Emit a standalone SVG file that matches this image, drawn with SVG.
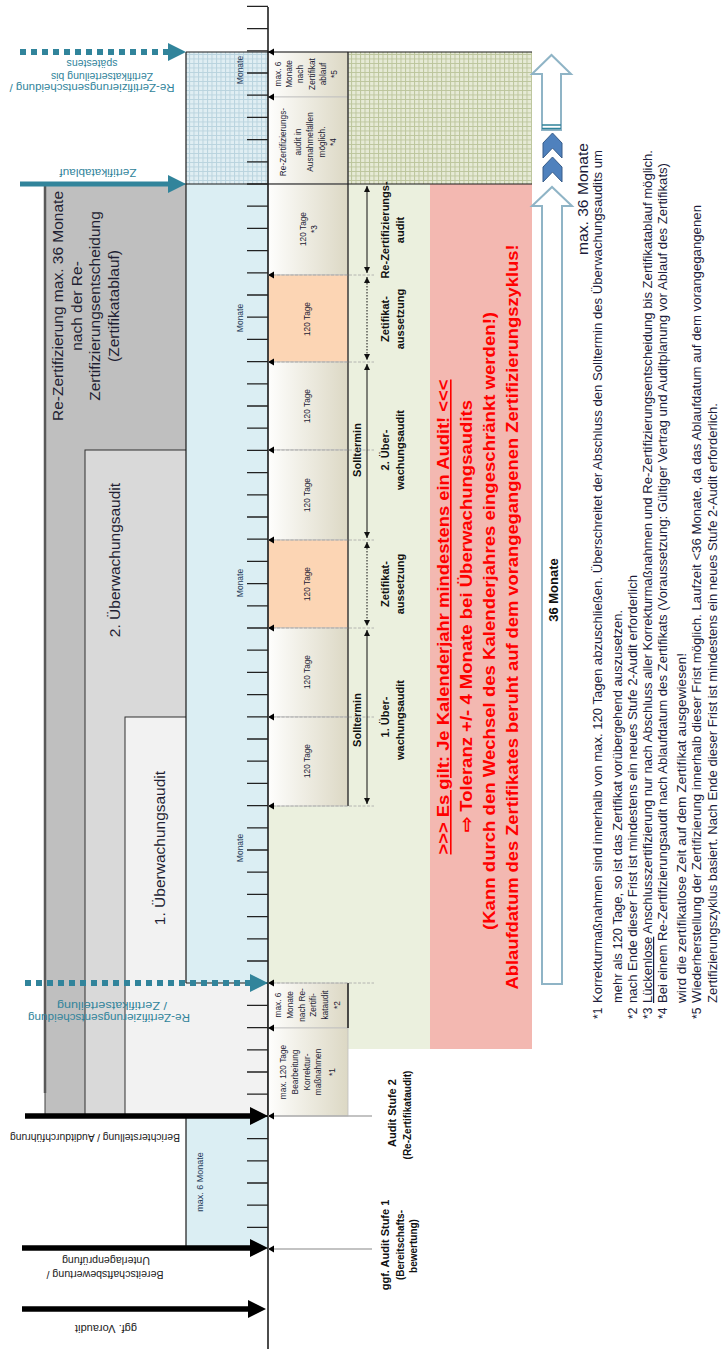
<svg xmlns="http://www.w3.org/2000/svg" width="721" height="1349" viewBox="0 0 721 1349">
<defs>
<style>
text{font-family:"Liberation Sans",Arial,sans-serif}
.box{font-size:15.5px;fill:#1f1f33}
.mon{font-size:8.5px;fill:#1f3b5a}
.blk{font-size:8.3px;fill:#1a1a33}
.grn{font-size:11px;font-weight:bold;fill:#111}
.red{font-size:16px;font-weight:bold;fill:#ff0000}
.foot{font-size:12px;fill:#1c1c3a}
.tl{font-size:10.5px;fill:#31849b}
.bl{font-size:10.5px;fill:#222}
.lbl{font-weight:bold;fill:#111}
.tick{stroke:#222;stroke-width:1.3;fill:none}
.gl{stroke:#a6a6a6;stroke-width:0.8;stroke-dasharray:3 1.5;fill:none}
.edge{stroke:#1a1a1a;stroke-width:1.2;fill:none}
.dbl{stroke:#111;stroke-width:1;fill:none;marker-start:url(#ah);marker-end:url(#ah)}
.dotd{stroke-dasharray:1.5 1.5}
.bigarr{fill:#fff;stroke:#8fb4c6;stroke-width:2}
.chev{fill:#4f81bd;stroke:#385d8a;stroke-width:1}
</style>
<linearGradient id="bg" x1="0" x2="1" y1="0" y2="0"><stop offset="0" stop-color="#fefefd"/><stop offset="1" stop-color="#dcd8c4"/></linearGradient>
<pattern id="pb" width="4.5" height="4.5" patternUnits="userSpaceOnUse"><rect width="4.5" height="4.5" fill="#e0eef3"/><path d="M0 0.5H4.5M0.5 0V4.5" stroke="#b9d3de" stroke-width="1"/></pattern>
<pattern id="pg" width="4.5" height="4.5" patternUnits="userSpaceOnUse"><rect width="4.5" height="4.5" fill="#e6eAd6"/><path d="M0 0.5H4.5M0.5 0V4.5" stroke="#bcc59c" stroke-width="1"/></pattern>
<marker id="ah" viewBox="0 0 8 8" refX="8" refY="4" markerWidth="6" markerHeight="7" markerUnits="userSpaceOnUse" orient="auto-start-reverse"><path d="M0 0L8 4L0 8z" fill="#111"/></marker>
<marker id="ht" viewBox="0 0 18 18" refX="2" refY="9" markerWidth="18" markerHeight="18" markerUnits="userSpaceOnUse" orient="auto"><path d="M0 0L18 9L0 18z" fill="#31849b"/></marker>
<marker id="hb" viewBox="0 0 18 18" refX="2" refY="9" markerWidth="18" markerHeight="18" markerUnits="userSpaceOnUse" orient="auto"><path d="M0 0L18 9L0 18z" fill="#000"/></marker>
<path id="tri" d="M0 0L6 -3.5L6 3.5z" fill="#000"/>
</defs>

<g id="box-rezert">
<rect x="45" y="184" width="223" height="932" fill="#bfbfbf" stroke="#404040" stroke-width="1"/>
<line x1="45" y1="184" x2="45" y2="1093" stroke="#595959" stroke-width="2.5"/>
<text class="box" transform="translate(63.4,306) rotate(-90)" text-anchor="middle">Re-Zertifizierung max. 36 Monate</text>
<text class="box" transform="translate(82,306) rotate(-90)" text-anchor="middle">nach der Re-</text>
<text class="box" transform="translate(100.4,306) rotate(-90)" text-anchor="middle">Zertifizierungsentscheidung</text>
<text class="box" transform="translate(118.9,306) rotate(-90)" text-anchor="middle">(Zertifikatablauf)</text>
</g>
<g id="box-ueb2">
<rect x="85" y="450" width="183" height="666" fill="#d9d9d9" stroke="#303030" stroke-width="1"/>
<text class="box" transform="translate(120.4,560) rotate(-90)" text-anchor="middle">2. Überwachungsaudit</text>
</g>
<g id="box-ueb1">
<rect x="125" y="717" width="143" height="399" fill="#f2f2f2" stroke="#303030" stroke-width="1"/>
<text class="box" transform="translate(165.4,848) rotate(-90)" text-anchor="middle">1. Überwachungsaudit</text>
</g>

<g id="months-column">
<rect x="186" y="52" width="82" height="132" fill="url(#pb)"/>
<rect x="186" y="184" width="82" height="799" fill="#dbeef3"/>
<line class="edge" x1="186" y1="52" x2="186" y2="983"/>
<line class="edge" x1="186" y1="983" x2="268" y2="983"/>
<line class="edge" x1="186" y1="184" x2="268" y2="184"/>
<text class="mon" transform="translate(243,70) rotate(-90)" text-anchor="middle">Monate</text>
<text class="mon" transform="translate(243,318) rotate(-90)" text-anchor="middle">Monate</text>
<text class="mon" transform="translate(243,583) rotate(-90)" text-anchor="middle">Monate</text>
<text class="mon" transform="translate(243,848) rotate(-90)" text-anchor="middle">Monate</text>
</g>
<g id="box-max6">
<rect x="186" y="1116" width="82" height="133" fill="#dbeef3"/>
<line class="edge" x1="186" y1="1116" x2="186" y2="1249"/>
<text transform="translate(203,1182) rotate(-90)" text-anchor="middle" style="font-size:9px;fill:#1f3b5a">max. 6 Monate</text>
</g>

<g id="green-column">
<rect x="348" y="52" width="184" height="132" fill="url(#pg)"/>
<rect x="348" y="184" width="82" height="865" fill="#ebf0de"/>
<rect x="268" y="806" width="80" height="177" fill="#ebf0de"/>
</g>
<g id="pink-column">
<rect x="430" y="184" width="102" height="865" fill="#f3b8b1"/>
<text class="red" transform="translate(449,617) rotate(-90)" text-anchor="middle" text-decoration="underline" textLength="475" lengthAdjust="spacingAndGlyphs">&gt;&gt;&gt; Es gilt: Je Kalenderjahr mindestens ein Audit! &lt;&lt;&lt;</text>
<text class="red" transform="translate(472,616) rotate(-90)" text-anchor="middle" textLength="432" lengthAdjust="spacingAndGlyphs">⇨ Toleranz +/- 4 Monate bei Überwachungsaudits</text>
<text class="red" transform="translate(495,621) rotate(-90)" text-anchor="middle" textLength="618" lengthAdjust="spacingAndGlyphs">(Kann durch den Wechsel des Kalenderjahres eingeschränkt werden!)</text>
<text class="red" transform="translate(518,617) rotate(-90)" text-anchor="middle" textLength="745" lengthAdjust="spacingAndGlyphs">Ablaufdatum des Zertifikates beruht auf dem vorangegangenen Zertifizierungszyklus!</text>
</g>

<g id="blk-max6-ablauf">
<rect x="268" y="52" width="80" height="45" fill="url(#bg)" stroke="#bfbfbf" stroke-width="0.8"/>
<text class="blk" transform="translate(280.9,74) rotate(-90)" text-anchor="middle">max. 6</text>
<text class="blk" transform="translate(291.9,74) rotate(-90)" text-anchor="middle">Monate</text>
<text class="blk" transform="translate(302.9,74) rotate(-90)" text-anchor="middle">nach</text>
<text class="blk" transform="translate(314.9,74) rotate(-90)" text-anchor="middle">Zertifikat</text>
<text class="blk" transform="translate(325.9,74) rotate(-90)" text-anchor="middle">ablauf</text>
<text class="blk" transform="translate(336.9,74) rotate(-90)" text-anchor="middle">*5</text>
</g>
<g id="blk-ausnahme">
<rect x="268" y="97" width="80" height="87" fill="url(#bg)" stroke="#bfbfbf" stroke-width="0.8"/>
<text class="blk" transform="translate(285.9,142) rotate(-90)" text-anchor="middle">Re-Zertifizierungs-</text>
<text class="blk" transform="translate(300.9,142) rotate(-90)" text-anchor="middle">audit in</text>
<text class="blk" transform="translate(312.9,142) rotate(-90)" text-anchor="middle">Ausnahmefällen</text>
<text class="blk" transform="translate(324.9,142) rotate(-90)" text-anchor="middle">möglich.</text>
<text class="blk" transform="translate(335.9,142) rotate(-90)" text-anchor="middle">*4</text>
</g>
<g id="blk-120-3">
<rect x="268" y="184" width="80" height="91" fill="url(#bg)" stroke="#bfbfbf" stroke-width="0.8"/>
<text class="blk" transform="translate(305.9,229) rotate(-90)" text-anchor="middle">120 Tage</text>
<text class="blk" transform="translate(316.9,229) rotate(-90)" text-anchor="middle">*3</text>
</g>
<g id="blk-120-a">
<rect x="268" y="275" width="80" height="87" fill="#fcd5b4" stroke="#bfbfbf" stroke-width="0.8"/>
<text class="blk" transform="translate(309.9,319) rotate(-90)" text-anchor="middle">120 Tage</text>
</g>
<g id="blk-120-b">
<rect x="268" y="362" width="80" height="88" fill="url(#bg)" stroke="#bfbfbf" stroke-width="0.8"/>
<text class="blk" transform="translate(309.9,406) rotate(-90)" text-anchor="middle">120 Tage</text>
</g>
<g id="blk-120-c">
<rect x="268" y="450" width="80" height="90" fill="url(#bg)" stroke="#bfbfbf" stroke-width="0.8"/>
<text class="blk" transform="translate(309.9,495) rotate(-90)" text-anchor="middle">120 Tage</text>
</g>
<g id="blk-120-d">
<rect x="268" y="540" width="80" height="88" fill="#fcd5b4" stroke="#bfbfbf" stroke-width="0.8"/>
<text class="blk" transform="translate(309.9,584) rotate(-90)" text-anchor="middle">120 Tage</text>
</g>
<g id="blk-120-e">
<rect x="268" y="628" width="80" height="89" fill="url(#bg)" stroke="#bfbfbf" stroke-width="0.8"/>
<text class="blk" transform="translate(309.9,672) rotate(-90)" text-anchor="middle">120 Tage</text>
</g>
<g id="blk-120-f">
<rect x="268" y="717" width="80" height="89" fill="url(#bg)" stroke="#bfbfbf" stroke-width="0.8"/>
<text class="blk" transform="translate(309.9,761) rotate(-90)" text-anchor="middle">120 Tage</text>
</g>
<g id="blk-max6-rezert">
<rect x="268" y="983" width="80" height="45" fill="url(#bg)" stroke="#bfbfbf" stroke-width="0.8"/>
<text class="blk" transform="translate(280.9,1005) rotate(-90)" text-anchor="middle">max. 6</text>
<text class="blk" transform="translate(292.9,1005) rotate(-90)" text-anchor="middle">Monate</text>
<text class="blk" transform="translate(304.9,1005) rotate(-90)" text-anchor="middle">nach Re-</text>
<text class="blk" transform="translate(315.9,1005) rotate(-90)" text-anchor="middle">Zertifi-</text>
<text class="blk" transform="translate(327.9,1005) rotate(-90)" text-anchor="middle">kataudit</text>
<text class="blk" transform="translate(339.9,1005) rotate(-90)" text-anchor="middle">*2</text>
</g>
<g id="blk-max120">
<rect x="268" y="1028" width="80" height="88" fill="url(#bg)" stroke="#bfbfbf" stroke-width="0.8"/>
<text class="blk" transform="translate(285.9,1072) rotate(-90)" text-anchor="middle">max. 120 Tage</text>
<text class="blk" transform="translate(297.9,1072) rotate(-90)" text-anchor="middle">Bearbeitung</text>
<text class="blk" transform="translate(309.9,1072) rotate(-90)" text-anchor="middle">Korrektur-</text>
<text class="blk" transform="translate(320.9,1072) rotate(-90)" text-anchor="middle">maßnahmen</text>
<text class="blk" transform="translate(334.9,1072) rotate(-90)" text-anchor="middle">*1</text>
</g>

<g id="frame-lines">
<line class="edge" x1="186" y1="52" x2="532" y2="52"/>
<line class="edge" x1="268" y1="184" x2="532" y2="184"/>
<line class="edge" x1="348" y1="52" x2="348" y2="806"/>
<line x1="348" y1="983" x2="348" y2="1028" stroke="#1a1a1a" stroke-width="1.5"/>
</g>

<g id="green-labels">
<text class="grn" transform="translate(361,450) rotate(-90)" text-anchor="middle">Solltermin</text>
<text class="grn" transform="translate(361,720) rotate(-90)" text-anchor="middle">Solltermin</text>
<text class="grn" transform="translate(388.9,230) rotate(-90)" text-anchor="middle">Re-Zertifizierungs-</text>
<text class="grn" transform="translate(403.9,230) rotate(-90)" text-anchor="middle">audit</text>
<text class="grn" transform="translate(388.9,319) rotate(-90)" text-anchor="middle">Zetifikat-</text>
<text class="grn" transform="translate(403.9,319) rotate(-90)" text-anchor="middle">aussetzung</text>
<text class="grn" transform="translate(388.9,450) rotate(-90)" text-anchor="middle">2. Über-</text>
<text class="grn" transform="translate(403.9,450) rotate(-90)" text-anchor="middle">wachungsaudit</text>
<text class="grn" transform="translate(388.9,584) rotate(-90)" text-anchor="middle">Zetifikat-</text>
<text class="grn" transform="translate(403.9,584) rotate(-90)" text-anchor="middle">aussetzung</text>
<text class="grn" transform="translate(388.9,717) rotate(-90)" text-anchor="middle">1. Über-</text>
<text class="grn" transform="translate(403.9,720) rotate(-90)" text-anchor="middle">wachungsaudit</text>
</g>

<g id="axis">
<line x1="268" y1="7" x2="268" y2="1349" stroke="#111" stroke-width="1.5"/>
<path class="tick" d="M247 6.4H268M247 28.6H268M247 50.8H268M247 73H268M247 95.2H268M247 117.4H268M247 139.6H268M247 161.8H268M247 184H268M247 206.2H268M247 228.4H268M247 250.6H268M247 272.8H268M247 295H268M247 317.2H268M247 339.4H268M247 361.6H268M247 383.8H268M247 406H268M247 428.2H268M247 450.4H268M247 472.6H268M247 494.8H268M247 517H268M247 539.2H268M247 561.4H268M247 583.6H268M247 605.8H268M247 628H268M247 650.2H268M247 672.4H268M247 694.6H268M247 716.8H268M247 739H268M247 761.2H268M247 783.4H268M247 805.6H268M247 827.8H268M247 850H268M247 872.2H268M247 894.4H268M247 916.6H268M247 938.8H268M247 961H268M247 983.2H268M247 1005.4H268M247 1027.6H268M247 1049.8H268M247 1072H268M247 1094.2H268M247 1116.4H268M247 1138.6H268M247 1160.8H268M247 1183H268M247 1205.2H268M247 1227.4H268"/>
</g>

<g id="connectors">
<path class="gl" d="M268 275H374M268 362H374M268 450H374M268 540H374M268 628H374M268 717H374M268 806H374M268 983H374"/>
<path d="M268 1116H372M268 1249H372" stroke="#b0b0b0" stroke-width="1.5" fill="none"/>
<use href="#tri" x="268" y="52"/>
<use href="#tri" x="268" y="97"/>
<use href="#tri" x="268" y="275"/>
<use href="#tri" x="268" y="362"/>
<use href="#tri" x="268" y="450"/>
<use href="#tri" x="268" y="540"/>
<use href="#tri" x="268" y="628"/>
<use href="#tri" x="268" y="717"/>
<use href="#tri" x="268" y="806"/>
<use href="#tri" x="268" y="983"/>
<use href="#tri" x="268" y="1028"/>
<use href="#tri" x="268" y="1116"/>
<use href="#tri" x="268" y="1249"/>
<line class="dbl" x1="367" y1="186" x2="367" y2="273"/>
<line class="dbl dotd" x1="367" y1="277" x2="367" y2="360"/>
<line class="dbl" x1="367" y1="364" x2="367" y2="538"/>
<line class="dbl dotd" x1="367" y1="542" x2="367" y2="626"/>
<line class="dbl" x1="367" y1="630" x2="367" y2="804"/>
<line x1="20" y1="52" x2="170" y2="52" stroke="#31849b" stroke-width="6" stroke-dasharray="6 5" marker-end="url(#ht)"/>
<line x1="20" y1="184" x2="170" y2="184" stroke="#31849b" stroke-width="5" marker-end="url(#ht)"/>
<line x1="25" y1="983" x2="252" y2="983" stroke="#31849b" stroke-width="6" stroke-dasharray="6 5" marker-end="url(#ht)"/>
<line x1="25" y1="1116" x2="252" y2="1116" stroke="#000" stroke-width="5.5" marker-end="url(#hb)"/>
<line x1="22" y1="1248" x2="252" y2="1248" stroke="#000" stroke-width="5.5" marker-end="url(#hb)"/>
<line x1="22" y1="1309" x2="250" y2="1309" stroke="#000" stroke-width="5.5" marker-end="url(#hb)"/>
</g>

<g id="arrow-labels">
<text class="tl" transform="translate(92,83.5) rotate(180)" text-anchor="middle" textLength="165" lengthAdjust="spacingAndGlyphs">Re-Zertifizierungsentscheidung /</text>
<text class="tl" transform="translate(102,72.5) rotate(180)" text-anchor="middle">Zertifikatserteilung bis</text>
<text class="tl" transform="translate(92,59.5) rotate(180)" text-anchor="middle">spätestens</text>
<text class="tl" transform="translate(98,168.5) rotate(180)" text-anchor="middle" textLength="77" lengthAdjust="spacingAndGlyphs">Zertifikatablauf</text>
<text class="tl" transform="translate(109,1013.5) rotate(180)" text-anchor="middle" textLength="162" lengthAdjust="spacingAndGlyphs">Re-Zertifizierungsentscheidung</text>
<text class="tl" transform="translate(112,1001.5) rotate(180)" text-anchor="middle" textLength="110" lengthAdjust="spacingAndGlyphs">/ Zertifikatserteilung</text>
<text class="bl" transform="translate(95,1133.5) rotate(180)" text-anchor="middle" textLength="170" lengthAdjust="spacingAndGlyphs">Berichterstellung / Auditdurchführung</text>
<text class="bl" transform="translate(105,1270.5) rotate(180)" text-anchor="middle" textLength="117" lengthAdjust="spacingAndGlyphs">Bereitschaftsbewertung /</text>
<text class="bl" transform="translate(106,1256.5) rotate(180)" text-anchor="middle" textLength="88" lengthAdjust="spacingAndGlyphs">Unterlagenprüfung</text>
<text class="bl" transform="translate(106,1324.5) rotate(180)" text-anchor="middle" textLength="62" lengthAdjust="spacingAndGlyphs">ggf. Voraudit</text>
</g>

<g id="audit-stage-labels">
<text class="lbl" transform="translate(396,1113) rotate(-90)" text-anchor="middle" style="font-size:11px">Audit Stufe 2</text>
<text class="lbl" transform="translate(410.5,1115) rotate(-90)" text-anchor="middle" style="font-size:10px">(Re-Zertifikataudit)</text>
<text class="lbl" transform="translate(389,1245) rotate(-90)" text-anchor="middle" style="font-size:11px">ggf. Audit Stufe 1</text>
<text class="lbl" transform="translate(403.5,1245) rotate(-90)" text-anchor="middle" style="font-size:10px">(Bereitschafts-</text>
<text class="lbl" transform="translate(416.5,1246) rotate(-90)" text-anchor="middle" style="font-size:10px">bewertung)</text>
</g>

<g id="duration-arrows">
<polygon class="bigarr" points="542,984 562,984 562,206 572,206 552,187 532,206 542,206"/>
<text transform="translate(557.5,590) rotate(-90)" text-anchor="middle" style="font-size:13px;font-weight:bold;fill:#111">36 Monate</text>
<polygon class="bigarr" points="542,130 561,130 561,74 571,74 551.5,55 532,74 542,74"/>
<path d="M542 125H561M542 128.5H561" stroke="#31849b" stroke-width="1.5"/>
<polygon class="chev" points="552.5,133 562,143 562,158 552.5,148 543,158 543,143"/>
<polygon class="chev" points="552.5,157 562,167 562,182 552.5,172 543,182 543,167"/>
<text transform="translate(588,199) rotate(-90)" text-anchor="middle" textLength="112" lengthAdjust="spacingAndGlyphs" style="font-size:15px;fill:#1c1c3a">max. 36 Monate</text>
</g>

<g id="footnotes">
<text class="foot" transform="translate(602,1019) rotate(-90)">*1</text>
<text class="foot" transform="translate(602,1003) rotate(-90)" textLength="853" lengthAdjust="spacingAndGlyphs">Korrekturmaßnahmen sind innerhalb von max. 120 Tagen abzuschließen. Überschreitet der Abschluss den Solltermin des Überwachungsaudits um</text>
<text class="foot" transform="translate(622,1003) rotate(-90)" textLength="393" lengthAdjust="spacingAndGlyphs">mehr als 120 Tage, so ist das Zertifikat vorübergehend auszusetzen.</text>
<text class="foot" transform="translate(637,1019) rotate(-90)">*2</text>
<text class="foot" transform="translate(637,1003) rotate(-90)" textLength="428" lengthAdjust="spacingAndGlyphs">nach Ende dieser Frist ist mindestens ein neues Stufe 2-Audit erforderlich</text>
<text class="foot" transform="translate(652,1019) rotate(-90)">*3</text>
<text class="foot" transform="translate(652,1003) rotate(-90)" textLength="853" lengthAdjust="spacingAndGlyphs"><tspan text-decoration="underline">Lückenlose</tspan> Anschlusszertifizierung nur nach Abschluss aller Korrekturmaßnahmen und Re-Zertifizierungsentscheidung bis Zertifikatablauf möglich.</text>
<text class="foot" transform="translate(667,1019) rotate(-90)">*4</text>
<text class="foot" transform="translate(667,1003) rotate(-90)" textLength="840" lengthAdjust="spacingAndGlyphs">Bei einem Re-Zertifizierungsaudit nach Ablaufdatum des Zertifikats (Voraussetzung: Gültiger Vertrag und Auditplanung vor Ablauf des Zertifikats)</text>
<text class="foot" transform="translate(686,1003) rotate(-90)" textLength="350" lengthAdjust="spacingAndGlyphs">wird die zertifikatlose Zeit auf dem Zertifikat ausgewiesen!</text>
<text class="foot" transform="translate(701,1019) rotate(-90)">*5</text>
<text class="foot" transform="translate(701,1003) rotate(-90)" textLength="798" lengthAdjust="spacingAndGlyphs">Wiederherstellung der Zertifizierung innerhalb dieser Frist möglich. Laufzeit &lt;36 Monate, da das Ablaufdatum auf dem vorangegangenen</text>
<text class="foot" transform="translate(717,1003) rotate(-90)" textLength="600" lengthAdjust="spacingAndGlyphs">Zertifizierungszyklus basiert. Nach Ende dieser Frist ist mindestens ein neues Stufe 2-Audit erforderlich.</text>
</g>
</svg>
